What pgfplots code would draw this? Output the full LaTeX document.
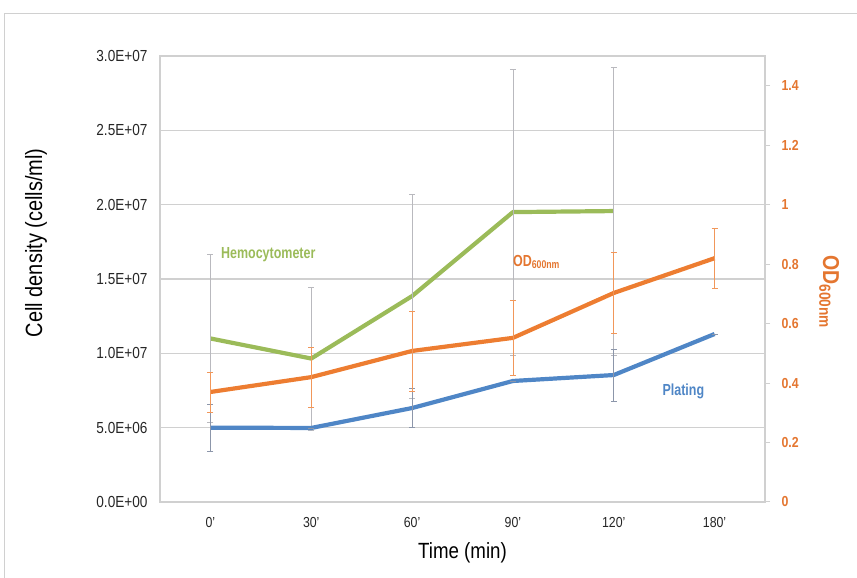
\documentclass[border=0pt]{standalone}
\usepackage{fontspec}
\setmainfont[FakeStretch=0.85]{Liberation Sans}
\newfontfamily\narrowfont[FakeStretch=0.78]{Liberation Sans}
\usepackage{pgfplots}
\pgfplotsset{compat=1.18}
\definecolor{cgreen}{RGB}{155,187,89}
\definecolor{corange}{RGB}{237,125,49}
\definecolor{cblue}{RGB}{79,134,198}
\definecolor{cgrid}{RGB}{208,208,208}
\definecolor{olabel}{RGB}{228,118,48}
\definecolor{ebgrey}{RGB}{185,185,190}
\definecolor{ebblue}{RGB}{140,150,170}
\begin{document}
\begin{tikzpicture}[x=1pt,y=1pt]
\useasboundingbox (-160,-76) rectangle (697,502);
\draw[cgrid, line width=1pt] (-155,-80) -- (-155,488) -- (700,488);
\begin{axis}[
  at={(0,0)}, anchor=south west, scale only axis,
  width=605pt, height=446pt,
  xmin=-0.5, xmax=5.5, ymin=0, ymax=3e7,
  xtick={0,1,2,3,4,5}, xticklabels={0',30',60',90',120',180'},
  ytick={0,5e6,1e7,1.5e7,2e7,2.5e7,3e7},
  yticklabels={0.0E+00,5.0E+06,1.0E+07,1.5E+07,2.0E+07,2.5E+07,3.0E+07},
  scaled y ticks=false,
  ymajorgrids, grid style={cgrid, line width=1.2pt},
  axis line style={cgrid, line width=1.2pt},
  major tick length=0pt,
  tick label style={text=black!85},
  xticklabel style={yshift=-12pt, font=\fontsize{14.5}{16}\selectfont},
  yticklabel style={xshift=-9pt, font=\fontsize{16}{18}\selectfont},
  ylabel={Cell density (cells/ml)},
  ylabel style={at={(axis description cs:-0.205,0.581)}, anchor=center, font=\fontsize{23.5}{25}\selectfont},
  xlabel={Time (min)},
  xlabel style={at={(axis description cs:0.5,-0.114)}, anchor=center, font=\fontsize{22}{24}\selectfont},
  clip=false,
]
% Hemocytometer
\addplot[cgreen, line width=4.2pt, line join=round,
  error bars/.cd, y dir=both, y explicit,
  error bar style={ebgrey, line width=0.6pt},
  error mark options={rotate=90, mark size=3pt, ebgrey, line width=0.6pt}]
  coordinates {
  (0,1.10e7) +- (0,0.565e7)
  (1,0.965e7) +- (0,0.48e7)
  (2,1.385e7) +- (0,0.685e7)
  (3,1.95e7) +- (0,0.96e7)
  (4,1.957e7) +- (0,0.97e7)
  };
% Plating
\addplot[cblue, line width=4.2pt, line join=round,
  error bars/.cd, y dir=both, y explicit,
  error bar style={ebblue, line width=0.6pt},
  error mark options={rotate=90, mark size=3pt, ebblue, line width=0.6pt}]
  coordinates {
  (0,5.0e6) +- (0,1.57e6)
  (1,4.98e6) +- (0,0)
  (2,6.32e6) +- (0,1.3e6)
  (3,8.14e6) +- (0,0)
  (4,8.54e6) +- (0,1.75e6)
  (5,1.13e7) +- (0,0)
  };
\node[text=cgreen, font=\narrowfont\fontsize{16}{18}\selectfont\bfseries] at (axis cs:0.574,1.661e7) {Hemocytometer};
\node[text=cblue, font=\narrowfont\fontsize{16}{18}\selectfont\bfseries] at (axis cs:4.69,0.746e7) {Plating};
\node[text=olabel, font=\narrowfont\fontsize{16}{18}\selectfont\bfseries, anchor=west, inner sep=0pt] at (axis cs:3.0,1.614e7) {OD\textsubscript{600nm}};
\end{axis}
\begin{axis}[
  at={(0,0)}, anchor=south west, scale only axis,
  width=605pt, height=446pt,
  xmin=-0.5, xmax=5.5, ymin=0, ymax=1.5,
  axis x line=none, axis y line*=right,
  ytick={0,0.2,0.4,0.6,0.8,1,1.2,1.4},
  yticklabels={0,0.2,0.4,0.6,0.8,1,1.2,1.4},
  axis line style={cgrid, line width=1.2pt, -},
  tick align=outside, major tick length=5pt,
  tick style={cgrid, line width=1pt},
  yticklabel style={font=\fontsize{14.5}{16}\selectfont\bfseries, text=olabel, xshift=8pt},
  ylabel={OD\textsubscript{600nm}},
  ylabel style={at={(axis description cs:1.106,0.471)}, anchor=center, rotate=-180, text=olabel, font=\fontsize{23}{25}\selectfont\bfseries},
  clip=false,
]
\addplot[corange, line width=4.2pt, line join=round,
  error bars/.cd, y dir=both, y explicit,
  error bar style={corange!80, line width=0.6pt},
  error mark options={rotate=90, mark size=3pt, corange!80, line width=0.6pt}]
  coordinates {
  (0,0.37) +- (0,0.067)
  (1,0.42) +- (0,0.10)
  (2,0.508) +- (0,0.135)
  (3,0.552) +- (0,0.125)
  (4,0.703) +- (0,0.137)
  (5,0.82) +- (0,0.10)
  };
\end{axis}
\end{tikzpicture}
\end{document}
